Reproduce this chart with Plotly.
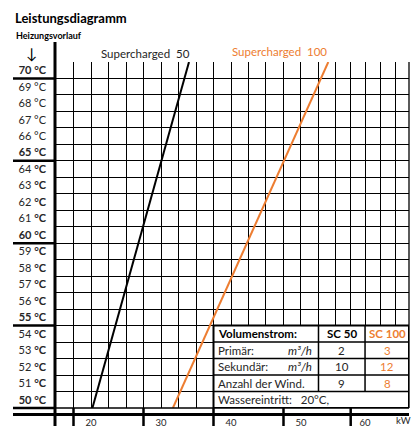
import plotly.graph_objects as go

# ---------------- data ----------------
temps = [50, 71]                      # Heizungsvorlauf (°C), line ends
sc50_kw = [20.2, 34.0]                # Supercharged 50 power (kW)
sc100_kw = [31.7, 53.9]               # Supercharged 100 power (kW)

label_temps = list(range(70, 49, -1))
bold_temps = [70, 65, 60, 55, 50]
plain_temps = [69, 68, 67, 66]
grid_temps = list(range(50, 71))
grid_kw = [17.5, 20, 22.5, 25, 27.5, 30, 32.5, 35, 37.5, 40, 42.5, 45, 47.5,
           50, 52.5, 55, 57.1, 59.15, 61.3, 63.45]
x_tick_kw = [20, 30, 40, 50, 59.15]
x_tick_text = ["20", "30", "40", "50", "60"]
bottom_cells_kw = [17.5, 27.5, 37.5, 47.5, 57.1]
x_range = [15, 65.43]
y_range = [50, 71]

table_cols_kw = [37.5, 52.5, 59.15, 65.43]
table_header = ["Volumenstrom:", "SC 50", "SC 100"]
table_labels = ["Primär:", "Sekundär:", "Anzahl der Wind."]
table_units = ["m³/h", "m³/h", ""]
table_sc50 = ["2", "10", "9"]
table_sc100 = ["3", "12", "8"]
table_footer = "Wassereintritt:\u00a0\u00a0 20°C,"
table_rows_t = [53, 52, 51]

ORANGE = "#ED7D31"
TXT = "#262626"
FONT = "Lato"

W, H = 418, 426
L, R, T, B = 56, 9, 62, 18
PW, PH = W - L - R, H - T - B


def px_x(px):
    return (px - L) / PW


def px_y(py):
    return (H - B - py) / PH


def kw_paper(kw):
    return (kw - x_range[0]) / (x_range[1] - x_range[0])


def t_paper(t):
    return (t - y_range[0]) / (y_range[1] - y_range[0])


def tlabel(t):
    if t in bold_temps:
        return f"<b>{t} °C</b>"
    if t in plain_temps:
        return f"{t} °C"
    return f"{t} <b>°C</b>"


fig = go.Figure()
fig.add_trace(go.Scatter(x=sc50_kw, y=temps, mode="lines",
                         line=dict(color="black", width=2), showlegend=False))
fig.add_trace(go.Scatter(x=sc100_kw, y=temps, mode="lines",
                         line=dict(color=ORANGE, width=2), showlegend=False))

shapes = []
# left thick vertical line
shapes.append(dict(type="line", xref="paper", yref="paper",
                   x0=px_x(55), x1=px_x(55), y0=px_y(42), y1=px_y(426),
                   line=dict(color="black", width=3)))
# thick separators in label column
for t in bold_temps:
    shapes.append(dict(type="line", xref="paper", yref="paper",
                       x0=px_x(13), x1=0, y0=t_paper(t), y1=t_paper(t),
                       line=dict(color="black", width=2.5)))
# bottom grid line and right border
shapes.append(dict(type="line", xref="paper", yref="paper", x0=0, x1=1, y0=0, y1=0,
                   line=dict(color="black", width=1.3)))
shapes.append(dict(type="line", xref="paper", yref="paper", x0=1, x1=1, y0=0, y1=1,
                   line=dict(color="black", width=1.3)))
# bottom double line
shapes.append(dict(type="line", xref="paper", yref="paper",
                   x0=px_x(13), x1=1, y0=px_y(414.5), y1=px_y(414.5),
                   line=dict(color="black", width=3)))
for kw in bottom_cells_kw:
    shapes.append(dict(type="line", xref="paper", yref="paper",
                       x0=kw_paper(kw), x1=kw_paper(kw), y0=0, y1=px_y(426),
                       line=dict(color="black", width=2.5)))

# table
tx0, tx1 = table_cols_kw[0], table_cols_kw[-1]
shapes.append(dict(type="rect", xref="x", yref="y", x0=tx0, x1=tx1, y0=50, y1=55,
                   fillcolor="white", line=dict(color="black", width=2), layer="above"))
for t in [51, 52, 53, 54]:
    shapes.append(dict(type="line", xref="x", yref="y", x0=tx0, x1=tx1, y0=t, y1=t,
                       line=dict(color="black", width=1.5), layer="above"))
for c in table_cols_kw[1:3]:
    shapes.append(dict(type="line", xref="x", yref="y", x0=c, x1=c, y0=51, y1=55,
                       line=dict(color="black", width=1.5), layer="above"))

ann = []


def add_text(text, x, y, xanchor="left", size=11, color=TXT, xref="paper", yref="paper", xshift=0):
    ann.append(dict(text=text, x=x, y=y, xref=xref, yref=yref, xanchor=xanchor,
                    yanchor="middle", showarrow=False, xshift=xshift,
                    font=dict(family=FONT, size=size, color=color)))


add_text("<b>Leistungsdiagramm</b>", px_x(13), px_y(18), size=13, color="black")
add_text("<b>Heizungsvorlauf</b>", px_x(14), px_y(35), size=9, color="black")
add_text("↓", px_x(32), px_y(53), xanchor="center", size=15, color="black")
add_text("Supercharged\u00a0 50", px_x(145), px_y(53), xanchor="center", size=11.5, color=TXT)
add_text("Supercharged\u00a0 100", px_x(279), px_y(52), xanchor="center", size=11.5, color=ORANGE)
ann.append(dict(text="kW", x=px_x(403), y=px_y(420.5), xref="paper", yref="paper",
                xanchor="center", yanchor="middle", showarrow=False, borderpad=0,
                font=dict(family=FONT, size=9.5, color=TXT)))

c_mid50 = (table_cols_kw[1] + table_cols_kw[2]) / 2
c_mid100 = (table_cols_kw[2] + table_cols_kw[3]) / 2
add_text("<b>" + table_header[0] + "</b>", tx0, 54.5, xref="x", yref="y", xshift=2, size=11.5, color="black")
add_text("<b>" + table_header[1] + "</b>", c_mid50, 54.5, xanchor="center", xref="x", yref="y", size=11.5, color="black")
add_text("<b>" + table_header[2] + "</b>", c_mid100, 54.5, xanchor="center", xref="x", yref="y", size=11.5, color=ORANGE)
for t, lab, unit, v50, v100 in zip(table_rows_t, table_labels, table_units, table_sc50, table_sc100):
    add_text(lab, tx0, t + 0.5, xref="x", yref="y", xshift=2, size=11.5, color=TXT)
    if unit:
        add_text("<i>" + unit + "</i>", table_cols_kw[1], t + 0.5, xanchor="right", xref="x", yref="y", xshift=-4, size=11.5, color=TXT)
    add_text(v50, c_mid50, t + 0.5, xanchor="center", xref="x", yref="y", size=11.5, color=TXT)
    add_text(v100, c_mid100, t + 0.5, xanchor="center", xref="x", yref="y", size=11.5, color=ORANGE)
add_text(table_footer, tx0, 50.5, xref="x", yref="y", xshift=2, size=11.5, color=TXT)

fig.update_layout(
    width=W, height=H, margin=dict(l=L, r=R, t=T, b=B, pad=0, autoexpand=False),
    paper_bgcolor="white", plot_bgcolor="white",
    font=dict(family=FONT, size=11, color=TXT),
    shapes=shapes, annotations=ann, showlegend=False,
    xaxis=dict(range=x_range, tickvals=x_tick_kw, ticktext=x_tick_text,
               showgrid=True, gridcolor="black", gridwidth=1.2,
               minor=dict(tickvals=grid_kw, showgrid=True, gridcolor="black", gridwidth=1.2),
               zeroline=False, showline=False, ticks="", ticklabelstandoff=7,
               automargin=False,
               tickfont=dict(family=FONT, size=9.5, color=TXT), fixedrange=True),
    yaxis=dict(range=y_range, tickvals=[t + 0.5 for t in label_temps],
               ticktext=[tlabel(t) for t in label_temps],
               showgrid=False,
               minor=dict(tickvals=grid_temps, showgrid=True, gridcolor="black", gridwidth=1.2),
               zeroline=False, showline=False, ticks="", ticklabelstandoff=9,
               automargin=False,
               tickfont=dict(family=FONT, size=11, color=TXT), fixedrange=True),
)

fig.write_html("out.html", config={"displayModeBar": False},
               post_script="document.body.style.margin='0';document.body.style.overflow='hidden';")
